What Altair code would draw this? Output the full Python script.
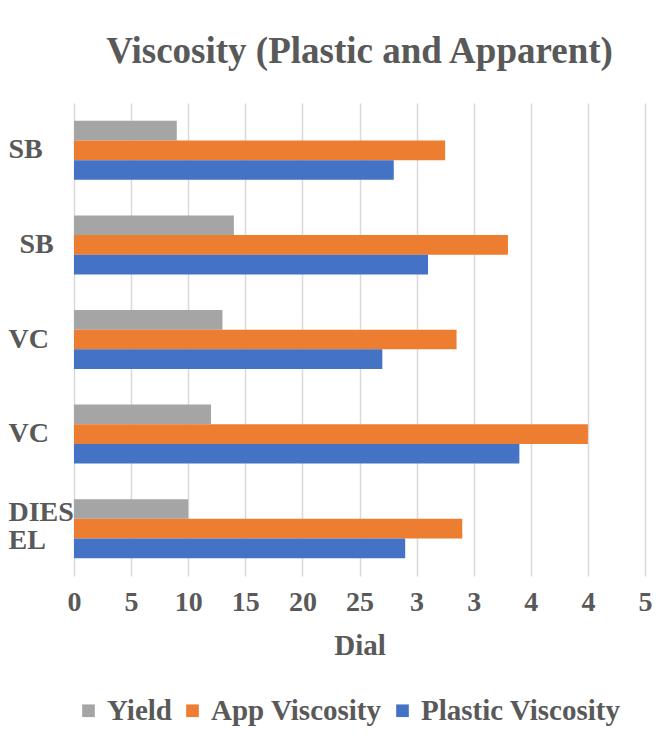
import json
import altair as alt
import pandas as pd

categories = ["SB", "SB", "VC", "VC", "DIESEL"]
series = ["Yield", "App Viscosity", "Plastic Viscosity"]
yield_vals = [9, 14, 13, 12, 10]
app_viscosity = [32.5, 38, 33.5, 45, 34]
plastic_viscosity = [28, 31, 27, 39, 29]
x_ticks = [0, 5, 10, 15, 20, 25, 30, 35, 40, 45, 50]
colors = ["#A5A5A5", "#ED7D31", "#4472C4"]

rows = []
for i, cat in enumerate(categories):
    for s, vals in zip(series, [yield_vals, app_viscosity, plastic_viscosity]):
        rows.append({"key": str(i), "category": cat, "series": s, "value": vals[i]})
df = pd.DataFrame(rows)

label_lines = [c if len(c) <= 4 else [c[:4], c[4:]] for c in categories]
y_label_expr = json.dumps(label_lines) + "[toNumber(datum.value)]"
x_label_expr = "datum.value >= 30 ? substring(datum.label, 0, 1) : datum.label"

FONT = "Liberation Serif"
TXT = "#595959"

chart = alt.Chart(df).mark_bar().encode(
    y=alt.Y(
        "key:N",
        sort=[str(i) for i in range(len(categories))],
        scale=alt.Scale(paddingInner=0.376, paddingOuter=0.188),
        axis=alt.Axis(
            title=None, labelExpr=y_label_expr, labelAlign="left",
            labelPadding={"condition": {"test": "datum.value === '1'", "value": 55}, "value": 66},
            labelOffset={"condition": {"test": "datum.value === '4'", "value": -16}, "value": 0},
            ticks=False, domain=False, labelFont=FONT, labelFontSize=28,
            labelFontWeight="bold", labelColor=TXT, labelLineHeight=28, labelLimit=0,
        ),
    ),
    yOffset=alt.YOffset(
        "series:N", sort=series,
        scale=alt.Scale(domain=series, paddingInner=0, paddingOuter=0),
    ),
    x=alt.X(
        "value:Q",
        scale=alt.Scale(domain=[0, 50], nice=False),
        axis=alt.Axis(
            values=x_ticks, title="Dial", labelExpr=x_label_expr, ticks=False,
            domain=False, labelFont=FONT, labelFontSize=28, labelFontWeight="bold",
            labelColor=TXT, labelPadding=12, titleFont=FONT, titleFontSize=29,
            titleFontWeight="bold", titleColor=TXT, titlePadding=15,
            gridColor="#D9D9D9", gridWidth=1.5, labelFlush=False,
        ),
    ),
    color=alt.Color(
        "series:N",
        scale=alt.Scale(domain=series, range=colors),
        legend=alt.Legend(
            title=None, orient="bottom", direction="horizontal",
            labelFont=FONT, labelFontSize=29, labelFontWeight="bold",
            labelColor=TXT, symbolType="square", symbolSize=160,
            symbolStrokeWidth=0, columnPadding=6, labelLimit=0, offset=36,
        ),
    ),
).properties(
    width=571,
    height=473,
    padding={"left": 0, "top": 25, "right": 0, "bottom": 0},
    title=alt.TitleParams(
        "Viscosity (Plastic and Apparent)", font=FONT, fontSize=37,
        fontWeight="bold", color=TXT, offset=32, anchor="middle",
    ),
).configure_view(stroke=None)

chart.save("out.html", embed_options={"renderer": "svg", "actions": False})
